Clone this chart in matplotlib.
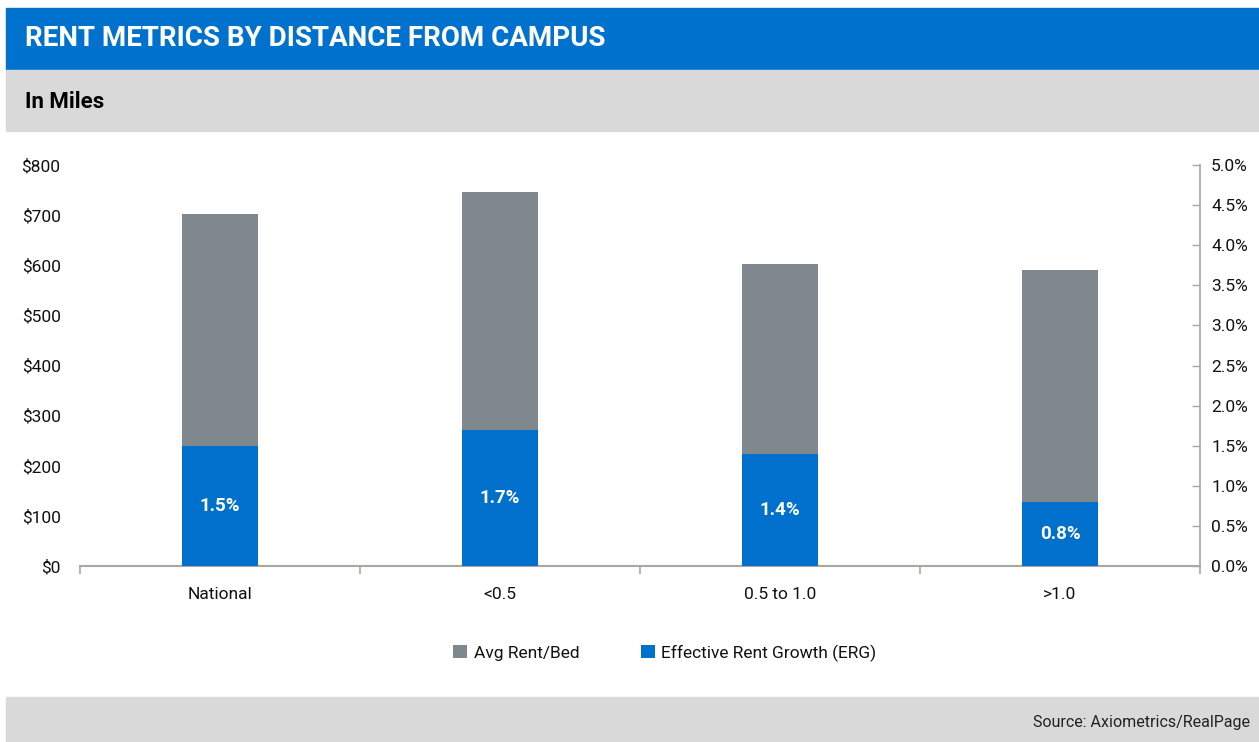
import numpy as np
import matplotlib.pyplot as plt
from matplotlib.patches import Rectangle
from matplotlib.ticker import FuncFormatter, MultipleLocator

plt.rcParams['font.family'] = ['Roboto', 'DejaVu Sans']
plt.rcParams['text.color'] = '#111111'
plt.rcParams['xtick.labelcolor'] = '#111111'
plt.rcParams['ytick.labelcolor'] = '#111111'

# data
categories = ['National', '<0.5', '0.5 to 1.0', '>1.0']
avg_rent = [702, 746, 603, 591]          # $ per bed
erg = [1.5, 1.7, 1.4, 0.8]               # effective rent growth, %

GREY = '#7F888E'
BLUE = '#0070CD'
BAND = '#D9D9D9'

W, H = 1259, 742
fig = plt.figure(figsize=(W / 100, H / 100), dpi=100)

def fig_rect(x0, y0, x1, y1, color):
    # rectangle given in pixel coords measured from the top-left corner
    fig.patches.append(Rectangle((x0 / W, 1 - y1 / H), (x1 - x0) / W, (y1 - y0) / H,
                                 transform=fig.transFigure, color=color, zorder=0))

fig_rect(6, 8, W, 70, '#0072CE')
fig_rect(6, 70, W, 131, BAND)
fig_rect(6, 697, W, H, BAND)

fig.text(25 / W, 1 - 39 / H, 'RENT METRICS BY DISTANCE FROM CAMPUS', color='white',
         fontsize=20, fontweight='bold', va='center', ha='left')
fig.text(25 / W, 1 - 102 / H, 'In Miles', color='black',
         fontsize=16, fontweight='bold', va='center', ha='left')
fig.text(1250 / W, 1 - 723 / H, 'Source: Axiometrics/RealPage', color='#222222',
         fontsize=11.5, va='center', ha='right')

ax = fig.add_axes([80 / W, 1 - 566 / H, 1120 / W, 401 / H])
ax2 = ax.twinx()

x = np.arange(len(categories))
bw = 0.27
ax.bar(x, avg_rent, width=bw, color=GREY, zorder=2, label='Avg Rent/Bed')
ax.set_xlim(-0.5, len(categories) - 0.5)
ax.set_ylim(0, 800)
ax.yaxis.set_major_locator(MultipleLocator(100))
ax.yaxis.set_major_formatter(FuncFormatter(lambda v, p: f'${v:,.0f}'))

ax2.bar(x, erg, width=bw, color=BLUE, zorder=3, label='Effective Rent Growth (ERG)')
ax2.set_ylim(0, 5)
ax2.yaxis.set_major_locator(MultipleLocator(0.5))
ax2.yaxis.set_major_formatter(FuncFormatter(lambda v, p: f'{v:.1f}%'))
for xi, v in zip(x, erg):
    ax2.text(xi, v / 2, f'{v:.1f}%', color='white', fontweight='bold',
             fontsize=13.5, ha='center', va='center', zorder=4)

# axes styling
for a in (ax, ax2):
    for s in ('top', 'left', 'right', 'bottom'):
        a.spines[s].set_visible(False)
ax.spines['bottom'].set_visible(True)
ax.spines['bottom'].set_color('#ADA5A1')
ax.spines['bottom'].set_linewidth(1.5)
ax2.spines['right'].set_visible(True)
ax2.spines['right'].set_color('#A6A6A6')
ax2.spines['right'].set_linewidth(1.2)

ax.set_xticks(x)
ax.set_xticklabels(categories)
ax.set_xticks(np.arange(len(categories) + 1) - 0.5, minor=True)
ax.tick_params(axis='x', which='major', length=0, pad=15, labelsize=12.5)
ax.tick_params(axis='x', which='minor', length=6, color='#ADA5A1', width=1.2)
ax.tick_params(axis='y', length=0, pad=14, labelsize=12.5)
ax2.tick_params(axis='y', direction='in', length=6, color='#A6A6A6', width=1.0,
                pad=8, labelsize=12.5)

h1, l1 = ax.get_legend_handles_labels()
h2, l2 = ax2.get_legend_handles_labels()
fig.legend(h1 + h2, l1 + l2, loc='center', bbox_to_anchor=(665 / W, 1 - 653 / H),
           ncol=2, frameon=False, fontsize=12.5, handlelength=0.8, handleheight=0.8,
           handletextpad=0.4, columnspacing=3.5)

fig.savefig('out.png', dpi=100)
